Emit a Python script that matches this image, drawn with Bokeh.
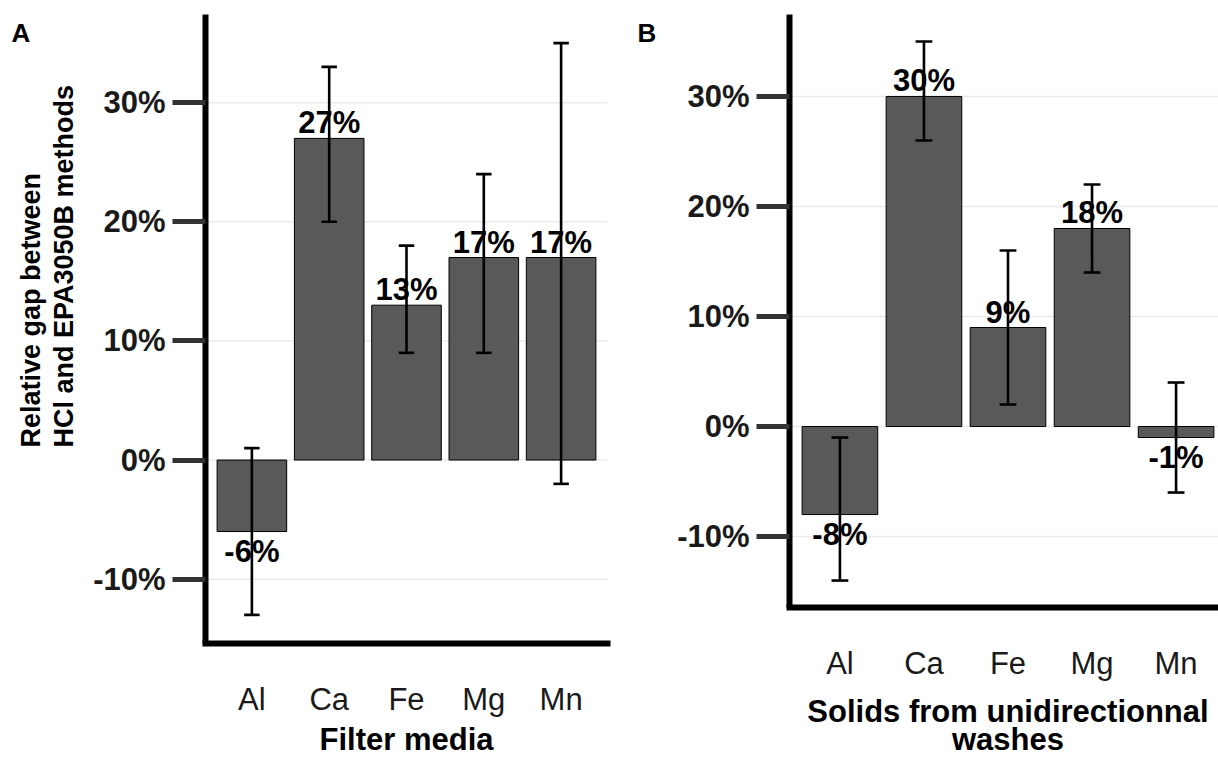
from bokeh.plotting import figure
from bokeh.layouts import row
from bokeh.models import Range1d, FixedTicker, Label, ColumnDataSource, PrintfTickFormatter
from bokeh.embed import file_html
from bokeh.resources import INLINE
from bokeh.core.properties import value
import math

# ---------------- data ----------------
elements = ["Al", "Ca", "Fe", "Mg", "Mn"]

filter_mean = [-6, 27, 13, 17, 17]
filter_low = [-13, 20, 9, 9, -2]
filter_high = [1, 33, 18, 24, 35]

wash_mean = [-8, 30, 9, 18, -1]
wash_low = [-14, 26, 2, 14, -6]
wash_high = [-1, 35, 16, 22, 4]

y_ticks = [-10, 0, 10, 20, 30]

FONT = "Liberation Sans"
BIG = "31px"
CANVAS_H = 757


def make_panel(mean, low, high, width, box, letter, letter_px,
               ytitle=None, xtitles=()):
    """box = (left, top, right, bottom) pixel box of the plotting panel in the canvas."""
    n = len(elements)
    xs = list(range(1, n + 1))
    x_lo, x_hi = 0.4, n + 0.6
    span = max(high) - min(low)
    y_lo, y_hi = min(low) - 0.05 * span, max(high) + 0.05 * span

    bl, bt, br, bb = box
    sx = (x_hi - x_lo) / (br - bl)
    sy = (y_hi - y_lo) / (bb - bt)
    xr = Range1d(x_lo - bl * sx, x_lo + (width - bl) * sx)
    yr = Range1d(y_lo - (CANVAS_H - bb) * sy, y_hi + bt * sy)

    def px2x(px):
        return xr.start + px * sx

    def py2y(py):
        return yr.end - py * sy

    p = figure(width=width, height=CANVAS_H, output_backend="svg", toolbar_location=None,
               x_range=xr, y_range=yr)
    p.min_border = 0
    p.min_border_left = p.min_border_right = p.min_border_top = p.min_border_bottom = 0
    p.outline_line_color = None
    p.background_fill_color = "white"
    p.border_fill_color = "white"
    p.xgrid.visible = False
    p.ygrid.visible = False

    # horizontal grid lines at the y ticks, across the panel only
    p.segment(x0=[x_lo] * len(y_ticks), x1=[x_hi] * len(y_ticks), y0=y_ticks, y1=y_ticks,
              line_color="#ebebeb", line_width=1.5)

    src = ColumnDataSource(dict(
        x=xs, mean=mean, low=low, high=high,
        xl=[x - 0.1 for x in xs], xr=[x + 0.1 for x in xs],
    ))
    p.vbar(x="x", top="mean", bottom=0, width=0.9, source=src,
           fill_color="#595959", line_color="black", line_width=1)

    pos = [i for i, m in enumerate(mean) if m >= 0]
    neg = [i for i, m in enumerate(mean) if m < 0]
    pos_src = ColumnDataSource(dict(x=[xs[i] for i in pos], y=[mean[i] for i in pos],
                                    t=["%d%%" % mean[i] for i in pos]))
    neg_src = ColumnDataSource(dict(x=[xs[i] for i in neg], y=[mean[i] for i in neg],
                                    t=["%d%%" % mean[i] for i in neg]))
    p.text(x="x", y="y", text="t", source=pos_src, text_align="center",
           text_baseline="bottom", y_offset=2, text_font=value(FONT),
           text_font_style="bold", text_font_size=value(BIG), text_color="black")
    p.text(x="x", y="y", text="t", source=neg_src, text_align="center",
           text_baseline="top", y_offset=2, text_font=value(FONT),
           text_font_style="bold", text_font_size=value(BIG), text_color="black")

    p.segment(x0="x", y0="low", x1="x", y1="high", source=src, line_color="black", line_width=2.6)
    p.segment(x0="xl", y0="low", x1="xr", y1="low", source=src, line_color="black", line_width=2.6)
    p.segment(x0="xl", y0="high", x1="xr", y1="high", source=src, line_color="black", line_width=2.6)

    # axes, pinned to the panel edges
    yax = p.yaxis[0]
    yax.fixed_location = x_lo
    yax.bounds = (y_lo, y_hi)
    yax.ticker = FixedTicker(ticks=y_ticks)
    yax.formatter = PrintfTickFormatter(format="%d%%")
    yax.axis_line_width = 6
    yax.axis_line_color = "black"
    yax.major_tick_line_width = 5
    yax.major_tick_line_color = "#333333"
    yax.major_tick_out = 33
    yax.major_tick_in = 0
    yax.minor_tick_line_color = None
    yax.major_label_standoff = 7
    yax.major_label_text_font = FONT
    yax.major_label_text_font_style = "bold"
    yax.major_label_text_font_size = BIG
    yax.major_label_text_color = "#1a1a1a"

    xax = p.xaxis[0]
    xax.fixed_location = y_lo
    xax.bounds = (x_lo, x_hi)
    xax.ticker = FixedTicker(ticks=xs)
    xax.major_label_overrides = {x: e for x, e in zip(xs, elements)}
    xax.axis_line_width = 6
    xax.axis_line_color = "black"
    xax.axis_line_cap = "square"
    xax.major_tick_line_color = None
    xax.major_tick_out = 0
    xax.major_tick_in = 0
    xax.minor_tick_line_color = None
    xax.major_label_standoff = 38
    xax.major_label_text_font = FONT
    xax.major_label_text_font_size = BIG
    xax.major_label_text_color = "#1a1a1a"

    p.add_layout(Label(x=px2x(letter_px[0]), y=py2y(letter_px[1]), text=letter,
                       text_font=FONT, text_font_style="bold", text_font_size="26px",
                       text_color="black", text_align="left", text_baseline="top"))
    if ytitle:
        for (cx, by, txt) in ytitle:
            p.add_layout(Label(x=px2x(cx), y=py2y(by), text=txt, angle=math.pi / 2,
                               text_font=FONT, text_font_style="bold", text_font_size="27px",
                               text_color="black", text_align="left", text_baseline="middle"))
    for (ty, txt) in xtitles:
        p.add_layout(Label(x=(x_lo + x_hi) / 2, y=py2y(ty), text=txt, text_font=FONT,
                           text_font_style="bold", text_font_size=BIG, text_color="black",
                           text_align="center", text_baseline="top"))
    return p


pA = make_panel(filter_mean, filter_low, filter_high, width=620,
                box=(205, 14, 607, 643), letter="A", letter_px=(11, 17),
                ytitle=[(30, 447, "Relative gap between"),
                        (63, 447, "HCl and EPA3050B methods")],
                xtitles=[(721, "Filter media")])

pB = make_panel(wash_mean, wash_low, wash_high, width=598,
                box=(169, 14, 606, 607), letter="B", letter_px=(17, 17),
                xtitles=[(693, "Solids from unidirectionnal"), (721, "washes")])

layout = row(pA, pB)
open("out.html", "w").write(file_html(layout, INLINE))
